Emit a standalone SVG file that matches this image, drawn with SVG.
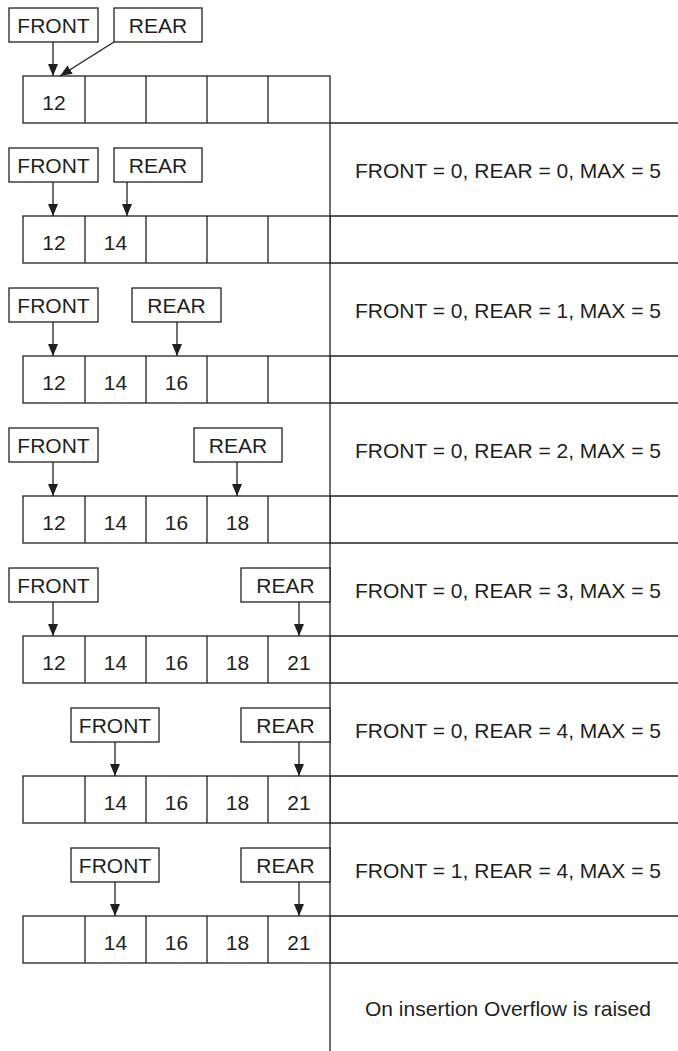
<svg xmlns="http://www.w3.org/2000/svg" width="678" height="1051" viewBox="0 0 678 1051">
<style>
.ln{stroke:#231f20;stroke-width:1.3;fill:none}
.bx{stroke:#231f20;stroke-width:1.3;fill:#fff}
.t{font-family:"Liberation Sans",Arial,sans-serif;font-size:21px;fill:#231f20}
.c{text-anchor:middle}
.ar{stroke:#231f20;stroke-width:1.3;fill:none;marker-end:url(#ah)}
</style>
<defs>
<marker id="ah" markerWidth="12" markerHeight="10" refX="12" refY="5" orient="auto" markerUnits="userSpaceOnUse">
<path d="M0,0 L12,5 L0,10 Z" fill="#231f20"/>
</marker>
</defs>
<rect width="678" height="1051" fill="#fff"/>

<g id="grid">
<line class="ln" x1="330" y1="123" x2="330" y2="1051"/>
<line class="ln" x1="330" y1="123" x2="678" y2="123"/>
<line class="ln" x1="330" y1="216" x2="678" y2="216"/>
<line class="ln" x1="330" y1="263" x2="678" y2="263"/>
<line class="ln" x1="330" y1="356" x2="678" y2="356"/>
<line class="ln" x1="330" y1="403" x2="678" y2="403"/>
<line class="ln" x1="330" y1="496" x2="678" y2="496"/>
<line class="ln" x1="330" y1="543" x2="678" y2="543"/>
<line class="ln" x1="330" y1="636" x2="678" y2="636"/>
<line class="ln" x1="330" y1="683" x2="678" y2="683"/>
<line class="ln" x1="330" y1="776" x2="678" y2="776"/>
<line class="ln" x1="330" y1="823" x2="678" y2="823"/>
<line class="ln" x1="330" y1="916" x2="678" y2="916"/>
<line class="ln" x1="330" y1="963" x2="678" y2="963"/>
</g>

<g id="array1">
<rect class="bx" x="23" y="76" width="307" height="47"/>
<path class="ln" d="M85,76V123M146,76V123M207,76V123M268,76V123"/>
<text class="t c" x="54" y="109.5">12</text>
</g>
<g id="array2">
<rect class="bx" x="23" y="216" width="307" height="47"/>
<path class="ln" d="M85,216V263M146,216V263M207,216V263M268,216V263"/>
<text class="t c" x="54" y="249.5">12</text>
<text class="t c" x="115.5" y="249.5">14</text>
</g>
<g id="array3">
<rect class="bx" x="23" y="356" width="307" height="47"/>
<path class="ln" d="M85,356V403M146,356V403M207,356V403M268,356V403"/>
<text class="t c" x="54" y="389.5">12</text>
<text class="t c" x="115.5" y="389.5">14</text>
<text class="t c" x="176.5" y="389.5">16</text>
</g>
<g id="array4">
<rect class="bx" x="23" y="496" width="307" height="47"/>
<path class="ln" d="M85,496V543M146,496V543M207,496V543M268,496V543"/>
<text class="t c" x="54" y="529.5">12</text>
<text class="t c" x="115.5" y="529.5">14</text>
<text class="t c" x="176.5" y="529.5">16</text>
<text class="t c" x="237.5" y="529.5">18</text>
</g>
<g id="array5">
<rect class="bx" x="23" y="636" width="307" height="47"/>
<path class="ln" d="M85,636V683M146,636V683M207,636V683M268,636V683"/>
<text class="t c" x="54" y="669.5">12</text>
<text class="t c" x="115.5" y="669.5">14</text>
<text class="t c" x="176.5" y="669.5">16</text>
<text class="t c" x="237.5" y="669.5">18</text>
<text class="t c" x="299" y="669.5">21</text>
</g>
<g id="array6">
<rect class="bx" x="23" y="776" width="307" height="47"/>
<path class="ln" d="M85,776V823M146,776V823M207,776V823M268,776V823"/>
<text class="t c" x="115.5" y="809.5">14</text>
<text class="t c" x="176.5" y="809.5">16</text>
<text class="t c" x="237.5" y="809.5">18</text>
<text class="t c" x="299" y="809.5">21</text>
</g>
<g id="array7">
<rect class="bx" x="23" y="916" width="307" height="47"/>
<path class="ln" d="M85,916V963M146,916V963M207,916V963M268,916V963"/>
<text class="t c" x="115.5" y="949.5">14</text>
<text class="t c" x="176.5" y="949.5">16</text>
<text class="t c" x="237.5" y="949.5">18</text>
<text class="t c" x="299" y="949.5">21</text>
</g>

<g id="front1"><rect class="bx" x="9" y="8" width="89" height="34"/><text class="t c" x="53.5" y="33">FRONT</text></g>
<g id="rear1"><rect class="bx" x="114" y="8" width="88" height="34"/><text class="t c" x="158" y="33">REAR</text></g>
<g id="front2"><rect class="bx" x="9" y="148" width="89" height="34"/><text class="t c" x="53.5" y="173">FRONT</text></g>
<g id="rear2"><rect class="bx" x="114" y="148" width="88" height="34"/><text class="t c" x="158" y="173">REAR</text></g>
<g id="front3"><rect class="bx" x="9" y="288" width="89" height="34"/><text class="t c" x="53.5" y="313">FRONT</text></g>
<g id="rear3"><rect class="bx" x="132" y="288" width="89" height="34"/><text class="t c" x="176.5" y="313">REAR</text></g>
<g id="front4"><rect class="bx" x="9" y="428" width="89" height="34"/><text class="t c" x="53.5" y="453">FRONT</text></g>
<g id="rear4"><rect class="bx" x="194" y="428" width="88" height="34"/><text class="t c" x="238" y="453">REAR</text></g>
<g id="front5"><rect class="bx" x="9" y="568" width="89" height="34"/><text class="t c" x="53.5" y="593">FRONT</text></g>
<g id="rear5"><rect class="bx" x="241" y="568" width="89" height="34"/><text class="t c" x="285.5" y="593">REAR</text></g>
<g id="front6"><rect class="bx" x="71" y="708" width="88" height="34"/><text class="t c" x="115" y="733">FRONT</text></g>
<g id="rear6"><rect class="bx" x="241" y="708" width="89" height="34"/><text class="t c" x="285.5" y="733">REAR</text></g>
<g id="front7"><rect class="bx" x="71" y="848" width="88" height="34"/><text class="t c" x="115" y="873">FRONT</text></g>
<g id="rear7"><rect class="bx" x="241" y="848" width="89" height="34"/><text class="t c" x="285.5" y="873">REAR</text></g>

<g id="connectors">
<line class="ar" x1="53" y1="42" x2="53" y2="76"/>
<line class="ar" x1="114" y1="42" x2="60" y2="76"/>
<line class="ar" x1="53" y1="182" x2="53" y2="216"/>
<line class="ar" x1="127" y1="182" x2="127" y2="216"/>
<line class="ar" x1="53" y1="322" x2="53" y2="356"/>
<line class="ar" x1="177" y1="322" x2="177" y2="356"/>
<line class="ar" x1="53" y1="462" x2="53" y2="496"/>
<line class="ar" x1="237" y1="462" x2="237" y2="496"/>
<line class="ar" x1="53" y1="602" x2="53" y2="636"/>
<line class="ar" x1="299" y1="602" x2="299" y2="636"/>
<line class="ar" x1="115" y1="742" x2="115" y2="776"/>
<line class="ar" x1="299" y1="742" x2="299" y2="776"/>
<line class="ar" x1="115" y1="882" x2="115" y2="916"/>
<line class="ar" x1="299" y1="882" x2="299" y2="916"/>
</g>

<g id="states">
<text class="t" x="355" y="178">FRONT = 0, REAR = 0, MAX = 5</text>
<text class="t" x="355" y="318">FRONT = 0, REAR = 1, MAX = 5</text>
<text class="t" x="355" y="458">FRONT = 0, REAR = 2, MAX = 5</text>
<text class="t" x="355" y="598">FRONT = 0, REAR = 3, MAX = 5</text>
<text class="t" x="355" y="738">FRONT = 0, REAR = 4, MAX = 5</text>
<text class="t" x="355" y="878">FRONT = 1, REAR = 4, MAX = 5</text>
<text class="t c" x="508" y="1016">On insertion Overflow is raised</text>
</g>
</svg>
